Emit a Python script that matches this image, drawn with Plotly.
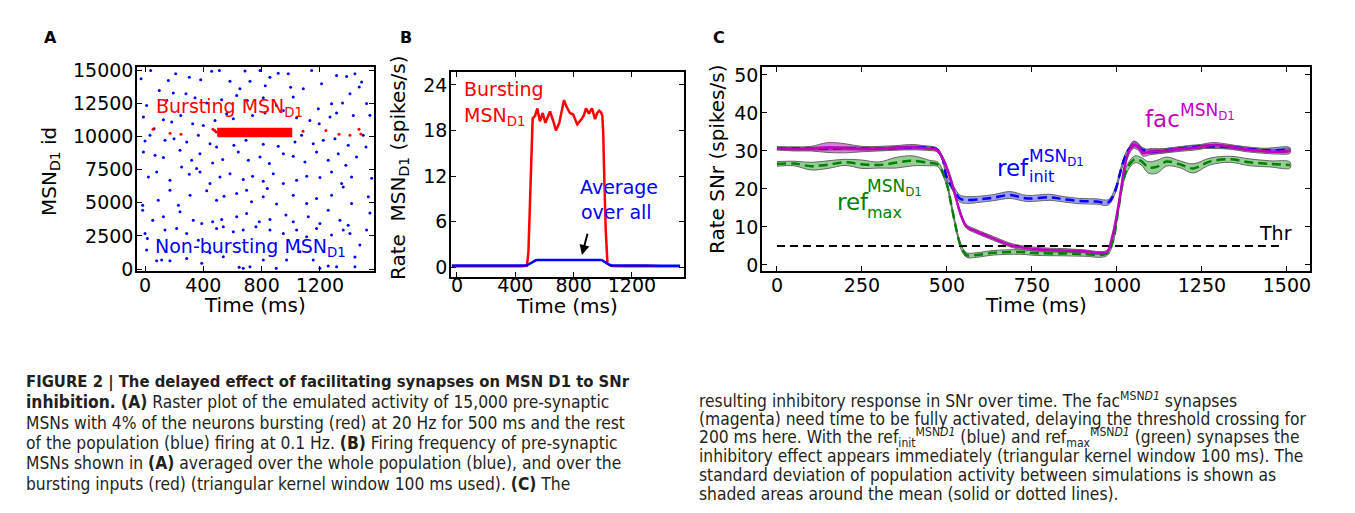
import plotly.graph_objects as go

# ---------------- Panel A: raster ----------------
blue_t = [-27, 39, 98, 160, 210, 304, 382, 457, 510, 583, 651, 686, 720, 789, 825, 857, 914, 983, 999, 1086, 1143, 1211, 1314, 1383, 1440,
          11, 149, 194, 281, 343, 423, 526, 629, 702, 811, 903, 1017, 1189, 1280, 1355, 1406,
          -11, 62, 126, 183, 245, 327, 400, 480, 560, 606, 738, 823, 949, 1040, 1131, 1195, 1269, 1314, 1429,
          0, 34, 137, 199, 286, 366, 446, 491, 610, 693, 811, 914, 1029, 1074, 1154, 1223, 1303, 1394,
          -11, 69, 126, 240, 320, 377, 464, 533, 640, 709, 789, 853, 949, 1017, 1097, 1177, 1257, 1326, 1378, 1451,
          23, 80, 171, 251, 304, 354, 377, 446, 514, 583, 674, 738, 811, 880, 949, 1040, 1109, 1200, 1280, 1349, 1417,
          -16, -16, 91, 171, 229, 309, 423, 491, 542, 629, 697, 731, 811, 839, 903, 1017, 1109, 1177, 1280, 1360, 1417,
          53, 126, 240, 331, 389, 464, 526, 629, 697, 784, 857, 967, 1017, 1120, 1200, 1257, 1337, 1394,
          0, 16, 137, 217, 286, 366, 491, 537, 606, 674, 761, 857, 949, 1040, 1109, 1177, 1280, 1360, 1406,
          11, 80, 114, 171, 286, 389, 446, 537, 646, 674, 720, 811, 900, 971, 1063, 1154, 1200, 1257, 1314, 1440,
          1486, 1470, 1520, 1543, 1497, 1516, 1555, 1532, 1543, 1520, 1474, 1440]
blue_id = [14357, 14985, 13480, 14230, 14735, 14480, 14280, 14935, 14980, 14180, 13600, 14950, 14180, 14985, 13830, 14480, 14785, 14735, 13730, 13600, 14985, 13980, 14610, 14530, 14735,
           12350, 12725, 13280, 13230, 12930, 12525, 12775, 13100, 12725, 12930, 12350, 12980, 12100, 12475, 12525, 13230,
           11470, 10590, 11270, 11095, 11595, 10970, 10840, 11220, 11720, 11345, 11595, 11770, 11970, 11420, 11220, 10970, 11470, 11770, 11595,
           9660, 10090, 9715, 9840, 9590, 10090, 9460, 9210, 9340, 9715, 9410, 9260, 9590, 10090, 9460, 9715, 9840, 9340,
           8835, 8585, 8410, 8960, 8210, 8710, 8010, 8260, 8835, 8210, 8460, 7960, 8710, 8510, 8080, 8835, 8210, 8710, 7830, 8460,
           6950, 7330, 6700, 7705, 7150, 7580, 7330, 6450, 6950, 7200, 6750, 7000, 6630, 7200, 6450, 6700, 7000, 6900, 7330, 6450, 6950,
           4820, 4440, 5200, 5950, 4820, 5570, 5900, 5200, 5500, 5700, 5950, 5070, 5450, 6070, 4900, 5570, 4950, 5320, 5570, 6200, 4950,
           3690, 3940, 4320, 3690, 3440, 3560, 3740, 3940, 4190, 3560, 3740, 4070, 3560, 3940, 3440, 4440, 3690, 3310,
           2685, 2310, 2940, 3060, 2685, 2180, 3060, 3190, 2810, 2940, 3190, 2940, 2685, 2940, 2430, 3060, 2560, 2940, 2685,
           1430, 630, 680, 630, 800, 430, 1230, 930, 125, 50, 175, 680, 50, 680, 1305, 680, 50, 225, 175, 175,
           14115, 13740, 12500, 11600, 10100, 9220, 6860, 5450, 4220, 2940, 1810, 900]
red_t = [55, 172, 247, 466, 478, 488, 1084, 1241, 1331, 1406, 1468, 1481]
red_id = [10550, 10250, 10175, 10550, 10450, 10350, 10400, 10450, 10175, 10100, 10550, 10200]
burst_t = [500, 1005]
burst_id = [10000, 10600]
a_xticks = [0, 400, 800, 1200]
a_yticks = [0, 2500, 5000, 7500, 10000, 12500, 15000]
a_yticktext = ["0", "2500", "5000", "7500", "10000", "12500", "15000"]

# ---------------- Panel B: rates ----------------
tB_red = [-35, 50, 150, 250, 350, 450, 480, 490, 500, 510, 519, 535, 551, 569, 588, 606, 622, 638, 661, 679, 702, 718, 734, 752,
          775, 797, 812, 825, 855, 870, 885, 905, 916, 926, 947, 962, 976, 988, 997, 1003, 1010, 1020, 1032, 1060, 1150, 1250,
          1350, 1450, 1530]
rate_red = [0.1, 0.1, 0.15, 0.1, 0.1, 0.1, 0.2, 2.0, 8.0, 14.0, 19.6, 19.9, 20.9, 19.2, 20.3, 19.0, 19.8, 20.5, 19.2, 18.0, 19.0,
            20.5, 22.0, 21.1, 20.3, 20.1, 19.4, 18.8, 19.5, 20.0, 20.9, 20.2, 20.6, 20.9, 19.5, 20.3, 20.6, 20.4, 19.9, 17.7,
            12.0, 5.0, 0.5, 0.15, 0.1, 0.15, 0.1, 0.1, 0.1]
tB_blue = [-35, 50, 150, 250, 350, 450, 475, 490, 505, 520, 540, 560, 600, 650, 700, 750, 800, 850, 900, 950, 985, 1000, 1015,
           1030, 1045, 1060, 1100, 1200, 1300, 1400, 1530]
rate_blue = [0.2, 0.2, 0.18, 0.2, 0.18, 0.2, 0.22, 0.35, 0.55, 0.75, 0.9, 0.95, 0.95, 0.92, 1.0, 0.98, 0.95, 0.98, 1.0, 0.98,
             0.95, 0.85, 0.65, 0.45, 0.3, 0.22, 0.2, 0.18, 0.2, 0.18, 0.17]
b_xticks = [0, 400, 800, 1200]
b_yticks = [0, 6, 12, 18, 24]

# ---------------- Panel C: SNr rates ----------------
tC_fac = [0, 50, 100, 150, 200, 250, 300, 350, 400, 450, 470, 487, 509, 528, 543, 558, 587, 636, 695, 754, 803, 842, 900, 970,
          984, 997, 1009, 1021, 1033, 1048, 1063, 1077, 1097, 1136, 1185, 1235, 1283, 1332, 1381, 1430, 1469, 1509]
fac = [30.7, 30.5, 30.6, 30.9, 30.7, 30.5, 30.6, 30.8, 31.0, 30.6, 30.3, 28.1, 23.2, 17.1, 12.7, 10.1, 8.8, 7.0, 5.0, 4.2, 3.9,
       3.8, 3.6, 3.4, 6.6, 11.8, 18.0, 25.0, 29.4, 31.6, 31.1, 29.4, 29.8, 30.0, 30.5, 30.9, 31.6, 31.1, 30.4, 30.0, 29.8, 30.0]
fac_sd = [0.4, 0.5, 0.6, 1.3, 1.2, 0.7, 0.6, 0.6, 0.7, 0.5, 0.5, 0.5, 0.5, 0.5, 0.5, 0.5, 0.5, 0.5, 0.5, 0.5, 0.5,
          0.5, 0.4, 0.4, 0.4, 0.5, 0.5, 0.6, 0.8, 1.0, 0.9, 0.8, 0.8, 0.6, 0.6, 0.6, 0.6, 0.6, 0.6, 0.6, 0.6, 0.6]

tC_init = [0, 100, 200, 300, 400, 470, 487, 499, 519, 538, 558, 597, 636, 686, 735, 803, 842, 891, 940, 975, 994, 1009, 1024,
           1038, 1053, 1072, 1097, 1150, 1234, 1332, 1430, 1509]
ref_init = [30.7, 30.6, 30.7, 30.6, 30.9, 30.4, 28.0, 23.2, 20.0, 17.5, 17.1, 17.3, 17.7, 18.4, 17.5, 17.8, 17.3, 16.8, 16.7,
            16.5, 19.3, 24.1, 28.5, 30.7, 31.8, 30.5, 29.8, 30.2, 31.1, 31.0, 30.2, 30.4]
init_sd = [0.4, 0.4, 0.4, 0.4, 0.4, 0.4, 0.5, 0.6, 0.8, 0.9, 0.9, 0.8, 0.8, 0.9, 0.8, 0.8, 0.7, 0.7, 0.7, 0.7, 0.7, 0.7, 0.6,
           0.6, 0.7, 0.6, 0.5, 0.5, 0.5, 0.5, 0.5, 0.5]

tC_max = [0, 50, 100, 150, 200, 250, 300, 350, 400, 450, 470, 479, 499, 514, 528, 543, 558, 587, 636, 714, 763, 842, 901, 970,
          989, 1004, 1019, 1033, 1053, 1072, 1092, 1117, 1146, 1185, 1224, 1273, 1332, 1391, 1450, 1509]
ref_max = [26.6, 26.7, 26.0, 26.4, 27.0, 26.5, 26.3, 26.9, 27.4, 26.8, 26.6, 25.9, 21.5, 15.3, 9.2, 4.4, 2.6, 2.6, 3.2, 3.4, 3.1,
           3.0, 2.9, 3.0, 6.6, 14.5, 22.4, 25.9, 27.8, 27.3, 25.7, 25.8, 27.2, 26.5, 25.4, 27.2, 27.8, 27.0, 26.6, 26.3]
max_sd = [0.6, 0.6, 1.0, 1.0, 0.8, 1.1, 0.8, 1.4, 1.3, 0.7, 0.6, 0.6, 0.6, 0.6, 0.6, 0.6, 0.6, 0.6, 0.6, 0.6, 0.6, 0.6, 0.6,
          0.6, 0.6, 0.7, 0.8, 0.9, 0.9, 1.0, 1.5, 1.7, 1.2, 0.9, 1.2, 0.9, 0.8, 0.9, 0.8, 0.8]

thr_t = [0, 1480]
thr_v = [5, 5]
c_xticks = [0, 250, 500, 750, 1000, 1250, 1500]
c_yticks = [0, 10, 20, 30, 40, 50]

# ---------------- styling ----------------
PAGE_W, PAGE_H = 1355, 513
OFF = 8  # default body margin of the html page
W, H = PAGE_W - 2 * OFF, PAGE_H - 2 * OFF
FONT = "DejaVu Sans"
CAPF = "DejaVu Sans Condensed, Liberation Sans Narrow, Liberation Sans, sans-serif"


def fx(px):
    return (px - OFF) / W


def fy(py):
    return 1 - (py - OFF) / H


def px_x(a, b):
    return [fx(a), fx(b)]


def px_y(top, bottom):
    return [fy(bottom), fy(top)]


axis_common = dict(showline=True, linecolor="black", linewidth=1.5, mirror="ticks", ticks="inside", ticklen=5,
                   tickwidth=1, tickcolor="black", showgrid=False, zeroline=False, automargin=False,
                   tickfont=dict(family=FONT, size=19, color="black"))
ycommon = dict(axis_common, ticklabelstandoff=-2)

fig = go.Figure()

# Panel A
fig.add_trace(go.Scatter(x=blue_t, y=blue_id, mode="markers", marker=dict(color="#0000ff", size=3),
                         xaxis="x", yaxis="y", showlegend=False))
fig.add_trace(go.Scatter(x=red_t, y=red_id, mode="markers", marker=dict(color="#ff0000", size=3),
                         xaxis="x", yaxis="y", showlegend=False))
fig.add_trace(go.Scatter(x=[burst_t[0], burst_t[1], burst_t[1], burst_t[0], burst_t[0]],
                         y=[burst_id[0], burst_id[0], burst_id[1], burst_id[1], burst_id[0]],
                         mode="lines", fill="toself", fillcolor="#ff0000", line=dict(color="#ff0000", width=1.5),
                         xaxis="x", yaxis="y", showlegend=False))

# Panel B
fig.add_trace(go.Scatter(x=tB_red, y=rate_red, mode="lines", line=dict(color="#ff0000", width=2.5),
                         xaxis="x2", yaxis="y2", showlegend=False))
fig.add_trace(go.Scatter(x=tB_blue, y=rate_blue, mode="lines", line=dict(color="#0000ff", width=2.5),
                         xaxis="x2", yaxis="y2", showlegend=False))


# Panel C bands
def band(t, v, sd, fillcolor):
    up = [a + b for a, b in zip(v, sd)]
    lo = [a - b for a, b in zip(v, sd)]
    fig.add_trace(go.Scatter(x=t + t[::-1], y=up + lo[::-1], mode="lines", fill="toself", fillcolor=fillcolor,
                             line=dict(color="#666666", width=1), line_shape="spline",
                             xaxis="x3", yaxis="y3", showlegend=False, hoverinfo="skip"))


band(tC_max, ref_max, max_sd, "rgba(40,160,40,0.5)")
band(tC_init, ref_init, init_sd, "rgba(60,60,255,0.5)")
band(tC_fac, fac, fac_sd, "rgba(190,0,190,0.5)")

fig.add_trace(go.Scatter(x=thr_t, y=thr_v, mode="lines", line=dict(color="black", width=2, dash="8px,5px"),
                         xaxis="x3", yaxis="y3", showlegend=False))
fig.add_trace(go.Scatter(x=tC_max, y=ref_max, mode="lines", line=dict(color="#008000", width=2.5, dash="9px,5px"),
                         line_shape="spline", xaxis="x3", yaxis="y3", showlegend=False))
fig.add_trace(go.Scatter(x=tC_init, y=ref_init, mode="lines", line=dict(color="#0000ff", width=2.5, dash="9px,5px"),
                         line_shape="spline", xaxis="x3", yaxis="y3", showlegend=False))
fig.add_trace(go.Scatter(x=tC_fac, y=fac, mode="lines", line=dict(color="#bf00bf", width=2.5),
                         line_shape="spline", xaxis="x3", yaxis="y3", showlegend=False))

fig.update_layout(
    width=W, height=H, autosize=False, margin=dict(l=0, r=0, t=0, b=0, autoexpand=False),
    paper_bgcolor="white", plot_bgcolor="white",
    xaxis=dict(domain=px_x(137, 374), range=[-55, 1571], tickvals=a_xticks, anchor="y",
               ticklabelstandoff=-4, **axis_common),
    yaxis=dict(domain=px_y(67, 271), range=[-150, 15250], tickvals=a_yticks, ticktext=a_yticktext,
               anchor="x", **ycommon),
    xaxis2=dict(domain=px_x(451, 684), range=[-41, 1557], tickvals=b_xticks, anchor="y2",
                ticklabelstandoff=-10, **axis_common),
    yaxis2=dict(domain=px_y(72, 277), range=[-1.3, 25.7], tickvals=b_yticks, anchor="x2", **ycommon),
    xaxis3=dict(domain=px_x(762, 1310), range=[-44, 1568], tickvals=c_xticks, anchor="y3",
                ticklabelstandoff=-4, **axis_common),
    yaxis3=dict(domain=px_y(67, 271), range=[-1.6, 52.1], tickvals=c_yticks, anchor="x3", **ycommon),
)

ann = []


def txt(x, y, s, color, size, xref, yref, xanchor="left", yanchor="middle", family=FONT, angle=0):
    ann.append(dict(x=x, y=y, text=s, xref=xref, yref=yref, xanchor=xanchor, yanchor=yanchor, showarrow=False,
                    textangle=angle, font=dict(family=family, size=size, color=color)))


def ptxt(px, py, s, color, size, xanchor="left", family=FONT, angle=0):
    txt(fx(px), fy(py), s, color, size, "paper", "paper", xanchor, "middle", family, angle)


# panel letters
ptxt(50, 37, "<b>A</b>", "black", 16, "center")
ptxt(406, 37, "<b>B</b>", "black", 16, "center")
ptxt(719, 37, "<b>C</b>", "black", 16, "center")

# axis titles
ptxt(255, 305, "Time (ms)", "black", 20, "center")
ptxt(567, 306, "Time (ms)", "black", 20, "center")
ptxt(1036, 305, "Time (ms)", "black", 20, "center")
ptxt(50, 172, "MSN<sub>D1</sub> id", "black", 20, "center", angle=-90)
ptxt(399, 168, "Rate  MSN<sub>D1</sub> (spikes/s)", "black", 20, "center", angle=-90)
ptxt(717, 160, "Rate SNr (spikes/s)", "black", 20, "center", angle=-90)

# panel A labels
txt(60, 12200, "Bursting MSN<sub>D1</sub>", "#ff0000", 19, "x", "y")
txt(52, 1650, "Non-bursting MSN<sub>D1</sub>", "#0000ff", 19, "x", "y")

# panel B labels
txt(34, 23.4, "Bursting", "#ff0000", 19, "x2", "y2")
txt(34, 19.8, "MSN<sub>D1</sub>", "#ff0000", 19, "x2", "y2")
txt(830, 10.5, "Average", "#0000ff", 19, "x2", "y2")
txt(840, 7.2, "over all", "#0000ff", 19, "x2", "y2")
ann.append(dict(x=857, y=1.6, ax=898, ay=4.6, xref="x2", yref="y2", axref="x2", ayref="y2", showarrow=True,
                arrowhead=2, arrowsize=1, arrowwidth=2, arrowcolor="black", text=""))

# panel C labels
txt(171, 16.6, "ref", "#008000", 23, "x3", "y3")
txt(259, 20.5, "MSN<sub>D1</sub>", "#008000", 17, "x3", "y3")
txt(259, 13.7, "max", "#008000", 16, "x3", "y3")
txt(641, 25.5, "ref", "#0000ff", 23, "x3", "y3")
txt(735, 28.4, "MSN<sub>D1</sub>", "#0000ff", 17, "x3", "y3")
txt(735, 23.2, "init", "#0000ff", 16, "x3", "y3")
txt(1076, 38.4, "fac", "#bf00bf", 23, "x3", "y3")
txt(1179, 40.3, "MSN<sub>D1</sub>", "#bf00bf", 17, "x3", "y3")
txt(1412, 8.4, "Thr", "black", 19, "x3", "y3")

# caption
left_lines = [
    "<b>FIGURE 2 | The delayed effect of facilitating synapses on MSN D1 to SNr</b>",
    "<b>inhibition. (A)</b> Raster plot of the emulated activity of 15,000 pre-synaptic",
    "MSNs with 4% of the neurons bursting (red) at 20 Hz for 500 ms and the rest",
    "of the population (blue) firing at 0.1 Hz. <b>(B)</b> Firing frequency of pre-synaptic",
    "MSNs shown in <b>(A)</b> averaged over the whole population (blue), and over the",
    "bursting inputs (red) (triangular kernel window 100 ms used). <b>(C)</b> The",
]
right_lines = [
    "resulting inhibitory response in SNr over time. The fac<sup>MSN<i>D1</i></sup> synapses",
    "(magenta) need time to be fully activated, delaying the threshold crossing for",
    "200 ms here. With the ref<sub>init</sub><sup>MSN<i>D1</i></sup> (blue) and ref<sub>max</sub><sup>MSN<i>D1</i></sup> (green) synapses the",
    "inhibitory effect appears immediately (triangular kernel window 100 ms). The",
    "standard deviation of population activity between simulations is shown as",
    "shaded areas around the mean (solid or dotted lines).",
]
for i, s in enumerate(left_lines):
    ptxt(24, 382 + 20.3 * i, s, "#231f20", 16.5 if i == 0 else 17.3, family=CAPF)
for i, s in enumerate(right_lines):
    ptxt(697, 400 + 18.8 * i, s, "#231f20", 17.3, family=CAPF)

fig.update_layout(annotations=ann)
fig.write_html("out.html")
